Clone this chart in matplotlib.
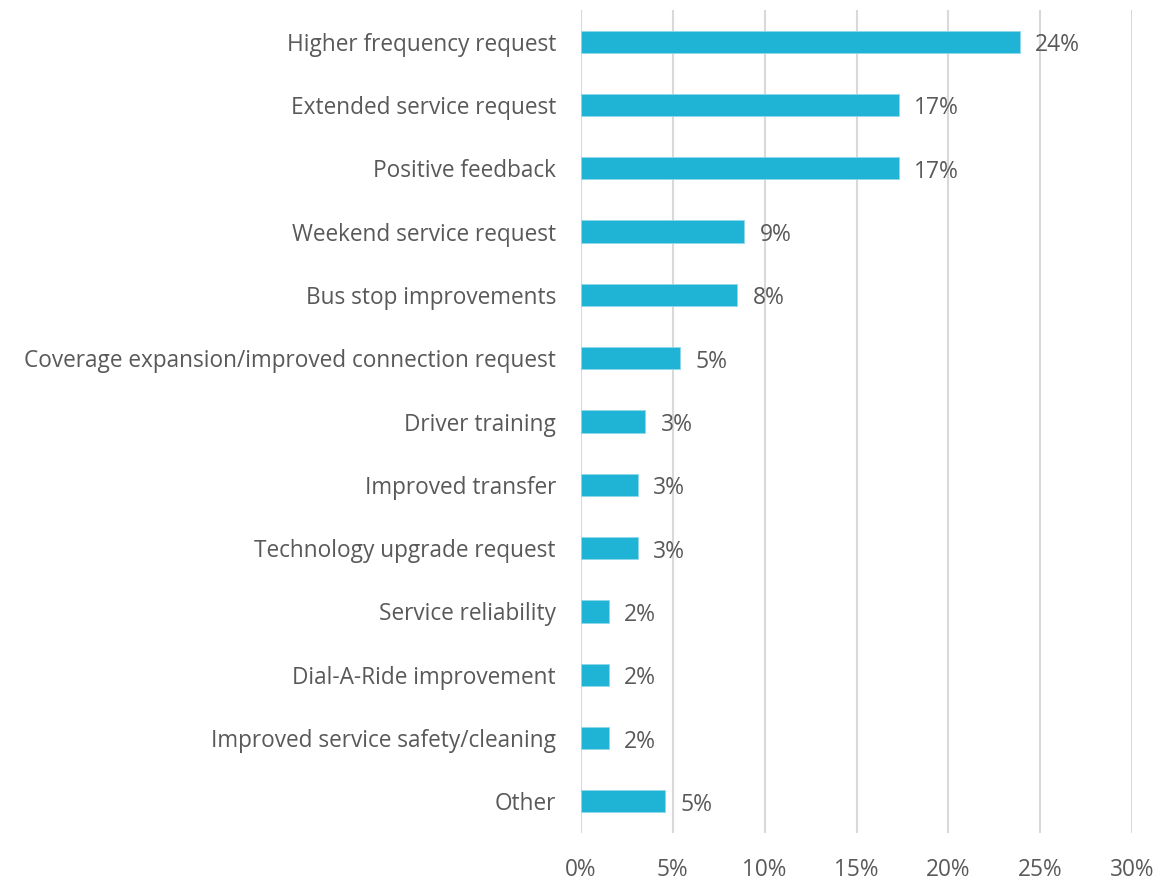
import matplotlib
matplotlib.use("Agg")
import matplotlib.pyplot as plt
from matplotlib.ticker import FuncFormatter

categories = [
    "Higher frequency request",
    "Extended service request",
    "Positive feedback",
    "Weekend service request",
    "Bus stop improvements",
    "Coverage expansion/improved connection request",
    "Driver training",
    "Improved transfer",
    "Technology upgrade request",
    "Service reliability",
    "Dial-A-Ride improvement",
    "Improved service safety/cleaning",
    "Other",
]
values = [23.9, 17.3, 17.3, 8.9, 8.5, 5.4, 3.5, 3.1, 3.1, 1.5, 1.5, 1.5, 4.6]
value_labels = ["24%", "17%", "17%", "9%", "8%", "5%", "3%", "3%", "3%", "2%", "2%", "2%", "5%"]
xticks = [0, 5, 10, 15, 20, 25, 30]

plt.rcParams['font.family'] = ['Open Sans', 'DejaVu Sans']
text_color = "#595959"
bar_color = "#1FB3D5"

fig = plt.figure(figsize=(11.6, 8.8), dpi=100)
ax = fig.add_axes([581/1160, 1 - 833/880, (1132-581)/1160, (833-10)/880])

y = list(range(len(categories)))
ax.barh(y, values, height=0.35, color=bar_color, edgecolor="#8FD9EA", linewidth=0.6, zorder=3)
for yi, v, lab in zip(y, values, value_labels):
    ax.annotate(lab, (v, yi), xytext=(11, -2.5), textcoords="offset points",
                va="center", ha="left", fontsize=16.5, color=text_color, zorder=4)

ax.set_xlim(0, 30)
ax.set_ylim(len(categories) - 0.5, -0.5)
ax.set_xticks(xticks)
ax.xaxis.set_major_formatter(FuncFormatter(lambda v, p: f"{v:.0f}%"))
ax.set_yticks(y)
ax.set_yticklabels(categories)
ax.tick_params(axis="both", length=0, labelsize=16.3, labelcolor=text_color)
ax.tick_params(axis="x", pad=18)
ax.tick_params(axis="y", pad=18)
ax.grid(axis="x", color="#D9D9D9", linewidth=1.5, zorder=0)
for s in ax.spines.values():
    s.set_visible(False)

fig.savefig("out.png", dpi=100)
